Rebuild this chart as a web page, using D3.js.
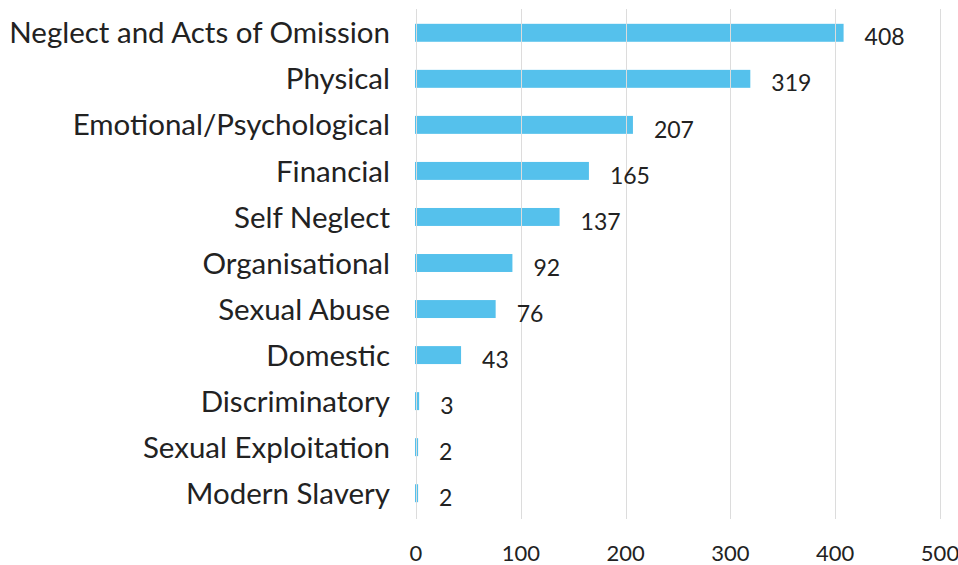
<!DOCTYPE html>
<html>
<head>
<meta charset="utf-8">
<script src="https://cdn.jsdelivr.net/npm/d3@7"></script>
<style>
  body { margin: 0; background: #fff; }
  svg { display: block; font-family: "Lato", "Open Sans", sans-serif; }
</style>
</head>
<body>
<div id="chart"></div>
<script>
const categories = [
    "Neglect and Acts of Omission",
    "Physical",
    "Emotional/Psychological",
    "Financial",
    "Self Neglect",
    "Organisational",
    "Sexual Abuse",
    "Domestic",
    "Discriminatory",
    "Sexual Exploitation",
    "Modern Slavery"
];
const values = [408, 319, 207, 165, 137, 92, 76, 43, 3, 2, 2];
const xTicks = [0, 100, 200, 300, 400, 500];

const data = categories.map((c, i) => ({ name: c, value: values[i] }));

const width = 958, height = 565;
const margin = { top: 9, right: 18, bottom: 46, left: 416 };

const svg = d3.select("#chart").append("svg")
    .attr("width", width)
    .attr("height", height);

const x = d3.scaleLinear()
    .domain([0, 500])
    .range([margin.left, width - margin.right]);

const y = d3.scaleBand()
    .domain(categories)
    .range([margin.top + 1, height - margin.bottom - 3])
    .paddingInner(0.61)
    .paddingOuter(0.3);

// bars
svg.append("g")
    .selectAll("rect")
    .data(data)
    .join("rect")
    .attr("x", x(0) - 1)
    .attr("y", d => y(d.name))
    .attr("width", d => x(d.value) - x(0) + 1)
    .attr("height", y.bandwidth())
    .attr("fill", "#55c1ec");

// vertical gridlines (drawn over the bars, as in the original)
svg.append("g")
    .selectAll("line")
    .data(xTicks)
    .join("line")
    .attr("x1", d => Math.round(x(d)) + 0.5)
    .attr("x2", d => Math.round(x(d)) + 0.5)
    .attr("y1", margin.top)
    .attr("y2", height - margin.bottom)
    .attr("stroke", "#dcdcdc")
    .attr("stroke-width", 1);

// x tick labels
svg.append("g")
    .selectAll("text")
    .data(xTicks)
    .join("text")
    .attr("x", d => x(d))
    .attr("y", 561)
    .attr("text-anchor", "middle")
    .attr("fill", "#222")
    .style("font-size", "22px")
    .text(d => d);

// value labels
svg.append("g")
    .selectAll("text")
    .data(data)
    .join("text")
    .attr("x", d => x(d.value) + 21)
    .attr("y", d => y(d.name) + y.bandwidth() / 2)
    .attr("dy", "0.55em")
    .attr("fill", "#222")
    .style("font-size", "23px")
    .text(d => d.value);

// category labels
svg.append("g")
    .selectAll("text")
    .data(data)
    .join("text")
    .attr("x", 390)
    .attr("y", d => y(d.name) + y.bandwidth() / 2)
    .attr("dy", "0.36em")
    .attr("text-anchor", "end")
    .attr("fill", "#222")
    .style("font-size", "29.5px")
    .text(d => d.name);
</script>
</body>
</html>
